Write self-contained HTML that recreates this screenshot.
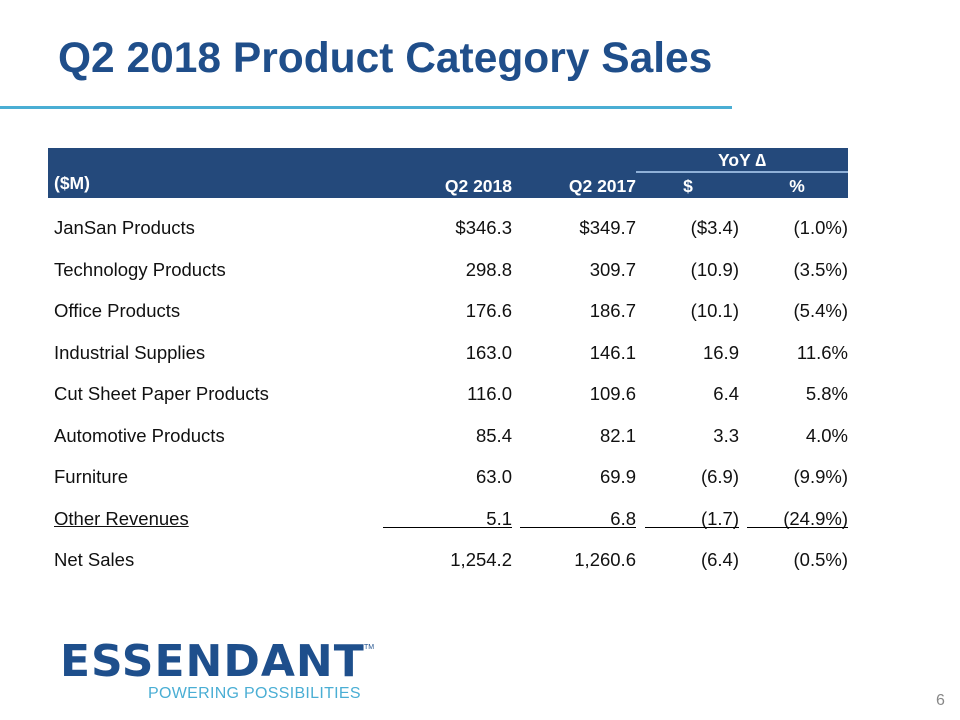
<!DOCTYPE html>
<html><head><meta charset="utf-8"><style>
body{margin:0;width:960px;height:720px;background:#fff;position:relative;overflow:hidden;font-family:"Liberation Sans",Arial,sans-serif}
.a{position:absolute;white-space:nowrap}
.t{font-size:18.5px;color:#111}
.r{text-align:right}
.h{color:#fff;font-weight:bold;font-size:17.5px}
.u{position:absolute;height:1px;background:#000;top:527px}
</style></head><body>
<div class="a" style="left:58px;top:35px;font-size:42.5px;font-weight:bold;color:#1f4e8a">Q2 2018 Product Category Sales</div>
<div class="a" style="left:0;top:106px;width:732px;height:3px;background:#4aaed4"></div>
<div class="a" style="left:48px;top:148px;width:800px;height:50px;background:#24497b"></div>
<div class="a" style="left:636px;top:171px;width:212px;height:2px;background:#8fb0d8"></div>
<div class="a h" style="left:54px;top:173px">($M)</div>
<div class="a h r" style="left:392px;width:120px;top:176px">Q2 2018</div>
<div class="a h r" style="left:516px;width:120px;top:176px">Q2 2017</div>
<div class="a h" style="left:636px;width:212px;top:150px;text-align:center">YoY ∆</div>
<div class="a h" style="left:668px;width:40px;top:176px;text-align:center">$</div>
<div class="a h" style="left:777px;width:40px;top:176px;text-align:center">%</div>
<div id="rows"></div>
<div class="u" style="left:383px;width:129px"></div>
<div class="u" style="left:520px;width:116px"></div>
<div class="u" style="left:645px;width:94px"></div>
<div class="u" style="left:747px;width:101px"></div>
<div class="a" style="left:60px;top:636px;font-size:44px;font-weight:900;color:#1e4f8c;letter-spacing:1px;font-family:'DejaVu Sans',sans-serif">ESSENDANT</div>
<div class="a" style="left:364px;top:644px;font-size:7px;color:#1e4f8c">TM</div>
<div class="a" style="left:148px;top:685px;font-size:16px;color:#4aaed4;letter-spacing:0.3px">POWERING POSSIBILITIES</div>
<div class="a" style="left:936px;top:692px;font-size:16px;color:#888">6</div>
<script>
const labels=["JanSan Products","Technology Products","Office Products","Industrial Supplies","Cut Sheet Paper Products","Automotive Products","Furniture","Other Revenues","Net Sales"];
const q2018=["$346.3","298.8","176.6","163.0","116.0","85.4","63.0","5.1","1,254.2"];
const q2017=["$349.7","309.7","186.7","146.1","109.6","82.1","69.9","6.8","1,260.6"];
const dDollar=["($3.4)","(10.9)","(10.1)","16.9","6.4","3.3","(6.9)","(1.7)","(6.4)"];
const dPct=["(1.0%)","(3.5%)","(5.4%)","11.6%","5.8%","4.0%","(9.9%)","(24.9%)","(0.5%)"];
const host=document.getElementById('rows');
const cols=[[q2018,392,"q2-2018"],[q2017,516,"q2-2017"],[dDollar,619,"yoy-dollar"],[dPct,728,"yoy-percent"]];
labels.forEach((l,i)=>{
  const top=217+i*41.5;
  const d=document.createElement('div');
  d.className='a t';
  
  
  d.style.left='54px';d.style.top=top+'px';
  if(i===7)d.style.textDecoration='underline';
  d.textContent=l;host.appendChild(d);
  cols.forEach(c=>{
    const e=document.createElement('div');
    e.className='a t r';
    
    
    e.style.left=c[1]+'px';e.style.width='120px';e.style.top=top+'px';
    e.textContent=c[0][i];host.appendChild(e);
  });
});
</script>
</body></html>
